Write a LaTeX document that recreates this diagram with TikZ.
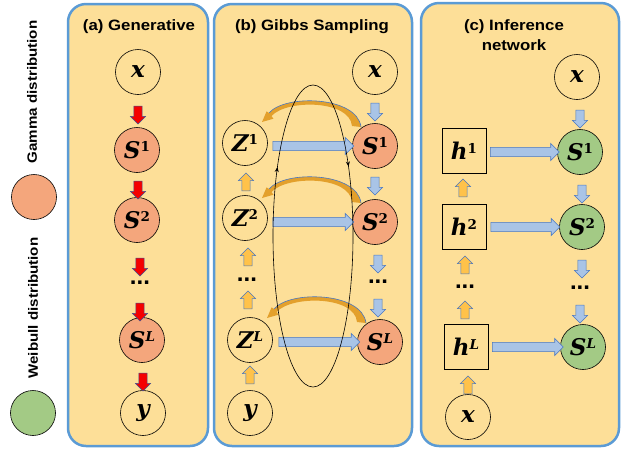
\documentclass[tikz,border=0pt]{standalone}
\usepackage{fontspec}
\setsansfont{Liberation Sans}
\newfontfamily\titlefont[FakeStretch=1.12]{Liberation Sans}
\newfontfamily\labfont{DejaVu Serif}
\newfontfamily\dotfont{Liberation Sans}
\usetikzlibrary{shapes.arrows,arrows.meta,decorations.markings,calc}
\definecolor{panelfill}{HTML}{FDDF98}
\definecolor{panelline}{HTML}{5B9BD5}
\definecolor{gammac}{HTML}{F4A67C}
\definecolor{weibc}{HTML}{A3CA85}
\definecolor{barrowfill}{HTML}{A9C4E6}
\definecolor{barrowline}{HTML}{4A78C0}
\definecolor{oarrowfill}{HTML}{FFC24A}
\definecolor{curvec}{HTML}{E3A02C}
\definecolor{redarrow}{HTML}{F50000}
\definecolor{redline}{HTML}{44508F}
\newcommand\lsup[1]{\raisebox{6.5pt}{\fontsize{13.5}{13.5}\selectfont #1}}
\newcommand\gibbsarc[1]{%
  \begin{scope}[shift={(#1)}]
    \fill[curvec] (-14,-19) .. controls (-18,-50) and (-90,-52) .. (-106,-33)
      -- (-108.4,-34.7) -- (-113,-24) -- (-101.6,-27.3) -- (-103.5,-30)
      .. controls (-88,-47) and (-25,-46) .. (-23,-20) -- cycle;
    \draw[barrowline, line width=0.6pt] (-14,-19) .. controls (-18,-50) and (-90,-52) .. (-106,-33);
  \end{scope}}
\tikzset{
  panel/.style={draw=panelline, line width=2.5pt, fill=panelfill, rounded corners=18pt},
  var/.style={circle, draw=black, line width=0.6pt, minimum size=45pt, inner sep=0pt, font=\labfont\fontsize{23}{24}\selectfont\bfseries\itshape},
  gam/.style={var, fill=gammac},
  wei/.style={var, fill=weibc},
  hbox/.style={rectangle, draw=black, line width=0.8pt, minimum width=44pt, minimum height=45pt, inner sep=0pt, font=\labfont\fontsize{23}{24}\selectfont\bfseries\itshape},
  dotsn/.style={inner sep=0pt, font=\dotfont\bfseries\fontsize{24}{24}\selectfont},
  blk/.style={single arrow, line width=0.5pt, inner sep=3.8pt, single arrow head extend=3.5pt, minimum width=0pt, minimum height=18pt},
  bdown/.style={blk, draw=barrowline, fill=barrowfill, shape border rotate=270},
  oup/.style={blk, draw=barrowline, fill=oarrowfill, shape border rotate=90},
  rdown/.style={blk, draw=redline, fill=redarrow, shape border rotate=270},
  bright/.style={single arrow, draw=barrowline, fill=barrowfill, line width=0.6pt, inner sep=4.3pt, single arrow head extend=4pt, minimum width=0pt},
  title/.style={font=\titlefont\bfseries\fontsize{15}{20}\selectfont, align=center},
  legend/.style={font=\titlefont\bfseries\fontsize{13.5}{15}\selectfont, rotate=90},
}
\begin{document}
\begin{tikzpicture}[x=1pt,y=-1pt]
\useasboundingbox (0,0) rectangle (622,451);
% panels
\draw[panel] (68,4) rectangle (208,446);
\draw[panel] (214,4) rectangle (412,446);
\draw[panel] (421,3) rectangle (619,446);
% legend
\node[legend] (lg-gamma) at (32,92) {Gamma distribution};
\node[gam] (lg-gc) at (34,197) {};
\node[legend] (lg-weib) at (33,308) {Weibull distribution};
\node[wei] (lg-wc) at (33,413) {};
% titles
\node[title] (ta) at (139,27) {(a) Generative};
\node[title] (tb) at (312,27) {(b) Gibbs Sampling};
\node[title] (tc) at (514,35) {(c) Inference\\network};
% panel a
\node[var] (a-x) at (138,72) {x};
\node[gam] (a-s1) at (137,150) {S\lsup{\upshape 1}};
\node[gam] (a-s2) at (137,220) {S\lsup{\upshape 2}};
\node[dotsn] (a-dots) at (140,283) {...};
\node[gam] (a-sl) at (142,340) {S\lsup{L}};
\node[var] (a-y) at (143,413) {y};
\node[rdown] (ra1) at (138,113) {};
\node[rdown] (ra2) at (138,188) {};
\node[rdown] (ra3) at (140,265) {};
\node[rdown] (ra4) at (140,310) {};
\node[rdown] (ra5) at (143,380) {};
% panel b
\node[var] (b-x) at (375,72) {x};
\node[gam] (b-s1) at (375,146) {S\lsup{\upshape 1}};
\node[var] (b-z1) at (245,143) {Z\lsup{\upshape 1}};
\node[gam] (b-s2) at (375,222) {S\lsup{\upshape 2}};
\node[var] (b-z2) at (245,218) {Z\lsup{\upshape 2}};
\node[dotsn] (b-zdots) at (247,280) {...};
\node[dotsn] (b-sdots) at (378,282) {...};
\node[var] (b-zl) at (250,340) {Z\lsup{L}};
\node[gam] (b-sl) at (380,342) {S\lsup{L}};
\node[var] (b-y) at (250,413) {y};
\node[bright, minimum height=81pt] (bh1) at (311,146) {};
\node[bright, minimum height=81pt] (bh2) at (311,222) {};
\node[bright, minimum height=81pt] (bh3) at (317,342) {};
\node[bdown] (bd1) at (375,110) {};
\node[bdown] (bd2) at (375,184) {};
\node[bdown] (bd3) at (378,262) {};
\node[bdown] (bd4) at (378,306) {};
\node[oup] (bu1) at (246,184) {};
\node[oup] (bu2) at (248,259) {};
\node[oup] (bu3) at (248,302) {};
\node[oup] (bu4) at (250,377) {};
% curved arrows (S -> Z)
\gibbsarc{b-s1}
\gibbsarc{b-s2}
\gibbsarc{b-sl}
% gibbs loop
\draw[line width=0.6pt, postaction=decorate, decoration={markings,
  mark=at position 0.606 with {\arrow{Stealth[length=5pt,width=4pt]}},
  mark=at position 0.893 with {\arrow{Stealth[length=5pt,width=4pt]}}}]
  (313,236) ellipse [x radius=40, y radius=151];
% panel c
\node[var] (c-x) at (577,77) {x};
\node[wei] (c-s1) at (580,152) {S\lsup{\upshape 1}};
\node[wei] (c-s2) at (582,227) {S\lsup{\upshape 2}};
\node[dotsn] (c-sdots) at (580,288) {...};
\node[wei] (c-sl) at (583,347) {S\lsup{L}};
\node[hbox] (c-h1) at (464,151) {h\lsup{\upshape 1}};
\node[hbox] (c-h2) at (464,227) {h\lsup{\upshape 2}};
\node[dotsn] (c-hdots) at (465,287) {...};
\node[hbox] (c-hl) at (466,347) {h\lsup{L}};
\node[var] (c-x2) at (468,417) {x};
\node[bright, minimum height=69pt] (ch1) at (522.5,152) {};
\node[bright, minimum height=69pt] (ch2) at (523,227) {};
\node[bright, minimum height=71pt] (ch3) at (525.5,347) {};
\node[bdown] (cd1) at (580,117) {};
\node[bdown] (cd2) at (582,192) {};
\node[bdown] (cd3) at (582,267) {};
\node[bdown] (cd4) at (580,312) {};
\node[oup] (cu1) at (463,190) {};
\node[oup] (cu2) at (465,267) {};
\node[oup] (cu3) at (465,312) {};
\node[oup] (cu4) at (468,387) {};
\end{tikzpicture}
\end{document}
